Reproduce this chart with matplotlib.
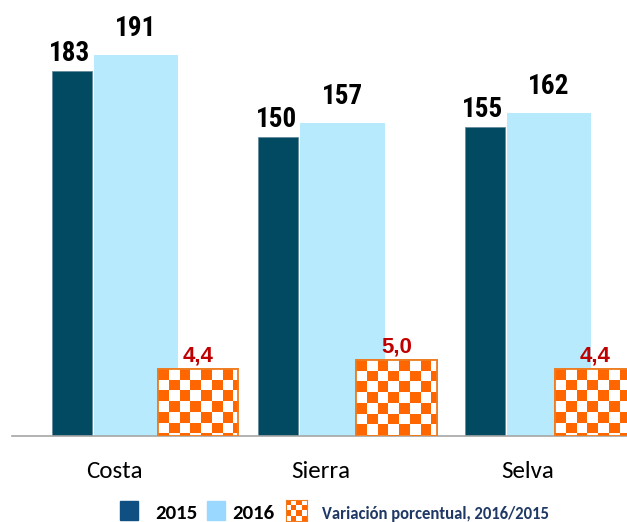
import numpy as np
import matplotlib
matplotlib.use("Agg")
import matplotlib.pyplot as plt
from matplotlib.patches import Rectangle

categories = ["Costa", "Sierra", "Selva"]
v2015 = [183, 150, 155]
v2016 = [191, 157, 162]
variacion = [4.4, 5.0, 4.4]
legend_labels = ["2015", "2016", "Variación porcentual, 2016/2015"]

C2015 = "#014a62"
C2016 = "#b7eafc"
C2015_LEG = "#0f4f82"
C2016_LEG = "#9ad8ff"
ORANGE = "#ff6600"
ORANGE_EDGE = "#ee7d22"
RED = "#c00000"
NAVY = "#1f3864"

CAL = ["Carlito", "Lato", "DejaVu Sans"]
NARROW = ["Roboto Condensed", "Liberation Sans", "DejaVu Sans"]

W, H, DPI = 627, 522, 100
fig = plt.figure(figsize=(W / DPI, H / DPI), dpi=DPI)

left_px, base_px = 12, 436
ax = fig.add_axes([left_px / W, (H - base_px) / H, (W - left_px) / W, base_px / H])
ax2 = fig.add_axes(ax.get_position())
ax2.patch.set_visible(False)

x = np.arange(len(categories))
ax.set_xlim(-0.4964, 2.4818)
ax.set_ylim(0, 218.5)

b1 = ax.bar(x - 0.207, v2015, width=0.196, color=C2015, edgecolor="#5f8697", linewidth=0.5, zorder=2)
b2 = ax.bar(x + 0.103, v2016, width=0.409, color=C2016, linewidth=0, zorder=2)

for r, v in zip(b1, v2015):
    ax.annotate(f"{v}", (r.get_x() + r.get_width() / 2, v), xytext=(-1.5, 7.0),
                textcoords="offset points", ha="center", va="baseline",
                fontsize=19.5, fontweight="bold", family=NARROW, color="black")
for r, v in zip(b2, v2016):
    ax.annotate(f"{v}", (r.get_x() + r.get_width() / 2, v), xytext=(0, 13.3),
                textcoords="offset points", ha="center", va="baseline",
                fontsize=19.5, fontweight="bold", family=NARROW, color="black")

for s in ["top", "right", "left"]:
    ax.spines[s].set_visible(False)
ax.spines["bottom"].set_color("#a6a6a6")
ax.spines["bottom"].set_linewidth(1.2)
ax.spines["bottom"].set_zorder(5)
ax.set_yticks([])
ax.set_xticks([])

for xi, c in zip(x, categories):
    ax.text(xi, -(478 - base_px) / base_px, c, transform=ax.get_xaxis_transform(),
            ha="center", va="baseline", fontsize=18, family=CAL, color="black")

ax2.set_xlim(-0.936, 2.159)
ax2.set_ylim(0, 28.7)
ax2.axis("off")

px_x = (W - left_px) / (2.159 + 0.936)
px_y = base_px / 28.7
cell = 10.7
cw, ch = cell / px_x, cell / px_y

b3 = ax2.bar(x, variacion, width=0.405, color="white", edgecolor=ORANGE_EDGE, linewidth=1.3, zorder=3)
cmap = matplotlib.colors.ListedColormap(["white", ORANGE])
for r in b3:
    x0, w = r.get_x(), r.get_width()
    top = r.get_height()
    nc = int(np.ceil(w / cw)) + 1
    nr = int(np.ceil(top / ch)) + 1
    grid = (np.add.outer(np.arange(nr), np.arange(nc)) + 1) % 2
    im = ax2.imshow(grid, cmap=cmap, interpolation="nearest", aspect="auto",
                    extent=[x0, x0 + nc * cw, top - nr * ch, top], origin="upper", zorder=3.5)
    im.set_clip_path(r)
    ax2.add_patch(Rectangle((x0, 0), w, top, fill=False, edgecolor=ORANGE_EDGE, linewidth=1.3, zorder=4))
ax2.set_xlim(-0.936, 2.159)
ax2.set_ylim(0, 28.7)

for r, v in zip(b3, variacion):
    ax2.annotate(f"{v:.1f}".replace(".", ","), (r.get_x() + r.get_width() / 2, v), xytext=(0, 5.4),
                 textcoords="offset points", ha="center", va="baseline",
                 fontsize=16, fontweight="bold", family=["Liberation Sans", "DejaVu Sans"], color=RED)

def fx(p):
    return p / W

def fy(p):
    return (H - p) / H

sq_top, sq_bot = 501, 520
fig.patches.append(Rectangle((fx(120), fy(sq_bot)), fx(18), (sq_bot - sq_top) / H,
                             transform=fig.transFigure, color=C2015_LEG, figure=fig))
fig.text(fx(155), fy(519), legend_labels[0], fontsize=15, fontweight="bold",
         family=CAL, color="black", va="baseline", ha="left")
fig.patches.append(Rectangle((fx(207), fy(sq_bot)), fx(18), (sq_bot - sq_top) / H,
                             transform=fig.transFigure, color=C2016_LEG, figure=fig))
fig.text(fx(232), fy(519), legend_labels[1], fontsize=15, fontweight="bold",
         family=CAL, color="black", va="baseline", ha="left")

lax = fig.add_axes([fx(286), fy(521), fx(21), 21 / H])
lgrid = (np.add.outer(np.arange(4), np.arange(4)) + 1) % 2
lax.imshow(lgrid, cmap=cmap, interpolation="nearest", aspect="auto")
lax.set_xticks([]); lax.set_yticks([])
for s in lax.spines.values():
    s.set_color(ORANGE_EDGE)
    s.set_linewidth(0.8)

fig.text(fx(322), fy(519), legend_labels[2], fontsize=12, fontweight="bold",
         family=CAL, color=NAVY, va="baseline", ha="left")

fig.savefig("out.png", dpi=DPI)
